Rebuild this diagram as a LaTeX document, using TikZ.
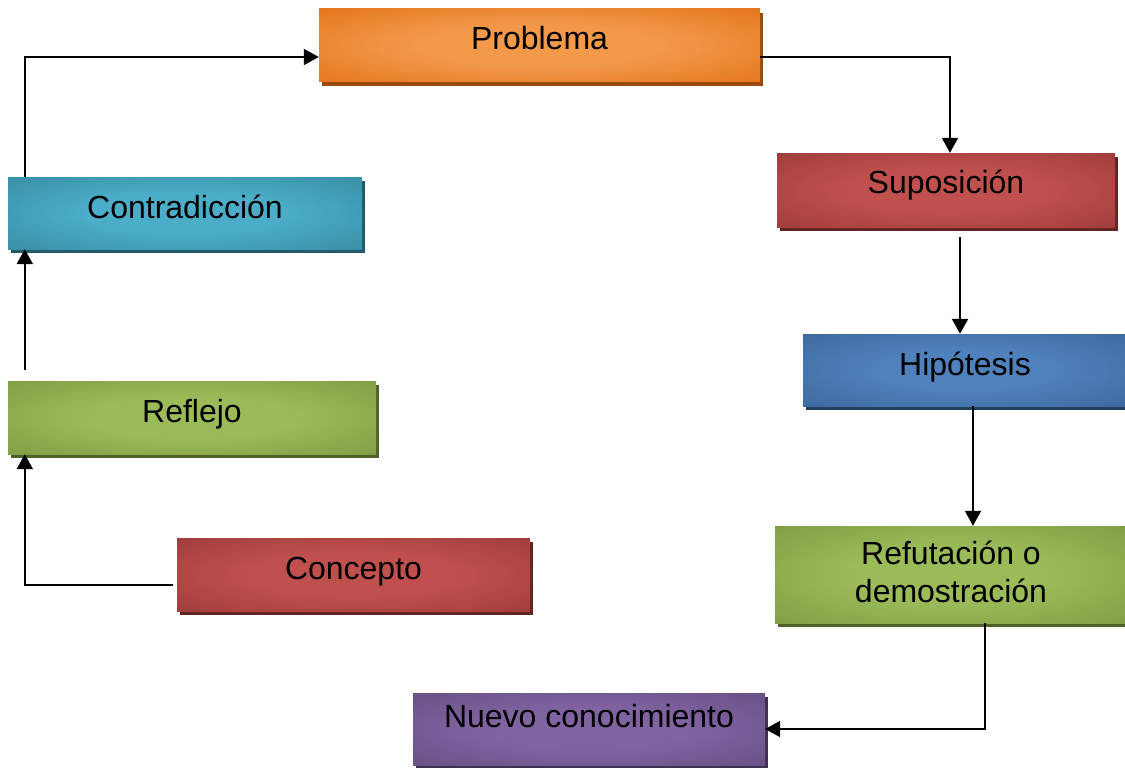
\documentclass[tikz,border=0pt]{standalone}
\usepackage{fontspec}
\setmainfont{Liberation Sans}
\usetikzlibrary{arrows.meta,shadows}
\colorlet{gin}{white}
\colorlet{gout}{black}
\pgfdeclareradialshading[gin,gout]{glow}{\pgfpoint{0bp}{0bp}}{color(0bp)=(gin); color(14bp)=(gin); color(44bp)=(gout); color(50bp)=(gout)}
\definecolor{orI}{HTML}{F2994A}\definecolor{orO}{HTML}{E0690C}\definecolor{orS}{HTML}{9A4A08}
\definecolor{aqI}{HTML}{4BADC7}\definecolor{aqO}{HTML}{31839A}\definecolor{aqS}{HTML}{215A69}
\definecolor{rdI}{HTML}{C0504D}\definecolor{rdO}{HTML}{943735}\definecolor{rdS}{HTML}{632523}
\definecolor{blI}{HTML}{4F81BD}\definecolor{blO}{HTML}{376092}\definecolor{blS}{HTML}{244061}
\definecolor{grI}{HTML}{9BBB59}\definecolor{grO}{HTML}{77933C}\definecolor{grS}{HTML}{4F6228}
\definecolor{puI}{HTML}{8064A2}\definecolor{puO}{HTML}{5F497A}\definecolor{puS}{HTML}{3F3151}
\tikzset{
  box/.style n args={3}{inner sep=0pt, draw=none,
    /utils/exec={\colorlet{gin}{#1}\colorlet{gout}{#2}}, shade, shading=glow,
    general shadow={fill=#3, shadow xshift=3pt, shadow yshift=-4pt}},
  lbl/.style={font=\fontsize{32}{38}\selectfont, inner sep=0pt, text=black, anchor=base},
  conn/.style={line width=2pt, draw=black, -{Triangle[length=15pt,width=16pt]}}
}
\begin{document}
\begin{tikzpicture}[x=1pt,y=-1pt]
\clip (0,0) rectangle (1125,768);
\fill[white] (0,0) rectangle (1125,768);
% boxes
\node[box={orI}{orO}{orS}, minimum width=441pt, minimum height=73pt] (prob) at (539.5,45.5) {};
\node[box={rdI}{rdO}{rdS}, minimum width=338pt, minimum height=74pt] (sup) at (946,190) {};
\node[box={blI}{blO}{blS}, minimum width=324pt, minimum height=72pt] (hip) at (965,370) {};
\node[box={grI}{grO}{grS}, minimum width=352pt, minimum height=97pt] (ref) at (951,574.5) {};
\node[box={puI}{puO}{puS}, minimum width=352pt, minimum height=72pt] (nuevo) at (589,729) {};
\node[box={aqI}{aqO}{aqS}, minimum width=354pt, minimum height=72pt] (contra) at (185,213) {};
\node[box={grI}{grO}{grS}, minimum width=368pt, minimum height=73pt] (refl) at (192,417.5) {};
\node[box={rdI}{rdO}{rdS}, minimum width=353pt, minimum height=73pt] (conc) at (353.5,574.5) {};
% labels
\node[lbl] (tprob) at (539.5,49.5) {Problema};
\node[lbl] (tsup) at (946,193) {Suposición};
\node[lbl] (thip) at (965,375) {Hipótesis};
\node[lbl] (tref1) at (951,564) {Refutación o};
\node[lbl] (tref2) at (951,602) {demostración};
\node[lbl] (tnuevo) at (589,727) {Nuevo conocimiento};
\node[lbl] (tcontra) at (185,218) {Contradicción};
\node[lbl] (trefl) at (192,422) {Reflejo};
\node[lbl] (tconc) at (353.5,579) {Concepto};
% connectors
\draw[conn] ([xshift=17pt]contra.north west) |- ([yshift=-11.5pt]prob.west);
\draw[conn] ([yshift=-11.5pt]prob.east) -| ([xshift=4pt]sup.north);
\coordinate (hipA) at ([xshift=-5pt]hip.north);
\draw[conn] ([yshift=-10pt]sup.south -| hipA) -- (hipA);
\coordinate (refA) at ([xshift=8pt]hip.south |- ref.north);
\draw[conn] ([xshift=8pt]hip.south) -- (refA);
\draw[conn] ([xshift=34pt]ref.south) |- (nuevo.east);
\draw[conn] ([xshift=-4pt,yshift=-10.5pt]conc.west) -| ([xshift=17pt]refl.south west);
\draw[conn] ([xshift=17pt,yshift=11pt]refl.north west) -- ([xshift=17pt]contra.south west);
\end{tikzpicture}
\end{document}
